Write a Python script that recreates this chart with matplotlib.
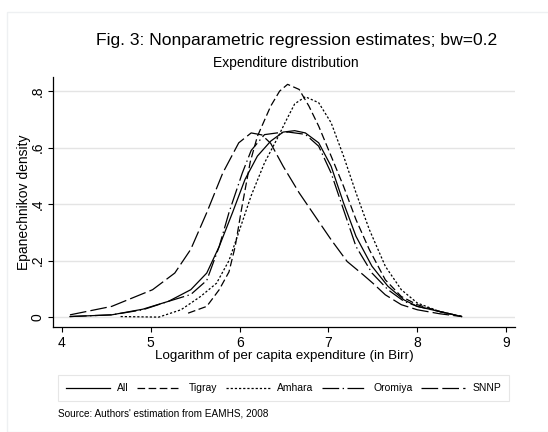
import numpy as np
import matplotlib
matplotlib.use("Agg")
from matplotlib import pyplot as plt
from matplotlib.patches import Rectangle

plt.rcParams['font.family'] = ['Liberation Sans', 'DejaVu Sans']
plt.rcParams['lines.scale_dashes'] = False

# valores
x_all = [4.09, 4.56, 4.91, 5.20, 5.45, 5.63, 5.77, 5.92, 6.06, 6.20, 6.35, 6.49, 6.62, 6.74,
         6.89, 7.03, 7.17, 7.31, 7.49, 7.67, 7.85, 8.0, 8.25, 8.5]
y_all = [0.002, 0.008, 0.028, 0.056, 0.097, 0.156, 0.25, 0.37, 0.487, 0.57, 0.623, 0.655, 0.66, 0.652,
         0.617, 0.534, 0.404, 0.286, 0.18, 0.109, 0.061, 0.038, 0.02, 0.002]

x_tig = [5.42, 5.63, 5.77, 5.88, 5.95, 6.02, 6.12, 6.20, 6.35, 6.45, 6.54, 6.67, 6.78,
         6.89, 7.03, 7.17, 7.31, 7.46, 7.64, 7.82, 8.0, 8.25, 8.5]
y_tig = [0.014, 0.038, 0.097, 0.16, 0.25, 0.38, 0.55, 0.64, 0.747, 0.80, 0.824, 0.806, 0.747,
         0.676, 0.57, 0.463, 0.345, 0.239, 0.132, 0.073, 0.044, 0.02, 0.002]

x_amh = [4.66, 5.09, 5.34, 5.56, 5.74, 5.88, 5.99, 6.13, 6.28, 6.42, 6.53, 6.62, 6.74,
         6.89, 7.03, 7.17, 7.31, 7.46, 7.64, 7.82, 8.0, 8.25, 8.5]
y_amh = [0.002, 0.0, 0.026, 0.073, 0.12, 0.2, 0.3, 0.43, 0.546, 0.63, 0.70, 0.755, 0.78,
         0.759, 0.688, 0.57, 0.44, 0.31, 0.18, 0.097, 0.05, 0.02, 0.002]

x_oro = [4.09, 4.56, 4.91, 5.20, 5.45, 5.63, 5.77, 5.88, 6.03, 6.13, 6.28, 6.42, 6.55, 6.74,
         6.89, 7.03, 7.17, 7.31, 7.49, 7.67, 7.85, 8.0, 8.25, 8.5]
y_oro = [0.002, 0.008, 0.026, 0.056, 0.08, 0.13, 0.25, 0.37, 0.51, 0.59, 0.646, 0.652, 0.655, 0.647,
         0.605, 0.51, 0.38, 0.25, 0.156, 0.097, 0.056, 0.038, 0.02, 0.002]

x_snnp = [4.09, 4.56, 5.02, 5.27, 5.45, 5.63, 5.81, 5.99, 6.13, 6.25, 6.35, 6.49, 6.67,
          6.85, 7.03, 7.21, 7.39, 7.50, 7.64, 7.82, 8.0, 8.25, 8.5]
y_snnp = [0.008, 0.038, 0.097, 0.156, 0.24, 0.37, 0.51, 0.617, 0.652, 0.645, 0.615, 0.534, 0.44,
          0.357, 0.274, 0.197, 0.15, 0.12, 0.079, 0.044, 0.026, 0.012, 0.002]

nomes = ["All", "Tigray", "Amhara", "Oromiya", "SNNP"]
xticks = [4, 5, 6, 7, 8, 9]
yticks = [0, 0.2, 0.4, 0.6, 0.8]
ytick_labels = ["0", ".2", ".4", ".6", ".8"]

W, H = 548, 432
fig = plt.figure(figsize=(5.48, 4.32), dpi=100)
fig.patches.append(Rectangle((7 / W, 0), 1, 1 - 12 / H, transform=fig.transFigure,
                             fill=False, edgecolor='#eef0f2', linewidth=1))

ax = fig.add_axes([53 / W, 1 - 327 / H, (515 - 53) / W, (327 - 77) / H])

estilos = ['-', (0, (5.5, 2.5)), (0, (1.6, 1.4)), (0, (12, 2.5, 1, 2.5)), (0, (12, 3))]
dados = [(x_all, y_all), (x_tig, y_tig), (x_amh, y_amh), (x_oro, y_oro), (x_snnp, y_snnp)]
for (xs, ys), ls, nome in zip(dados, estilos, nomes):
    ax.plot(xs, ys, color='black', linestyle=ls, linewidth=0.9, label=nome)

ax.set_xlim(3.899, 9.10)
ax.set_ylim(-0.035, 0.85)
ax.set_xticks(xticks)
ax.set_yticks(yticks)
ax.set_yticklabels(ytick_labels, rotation=90, va='center')
for g in yticks:
    ax.axhline(g, color='#e4e4e4', linewidth=1, zorder=0)

for s in ['top', 'right']:
    ax.spines[s].set_visible(False)
ax.spines['left'].set_linewidth(0.9)
ax.spines['bottom'].set_linewidth(0.9)
ax.tick_params(axis='both', length=3.6, width=0.8, labelsize=10)
ax.tick_params(axis='x', pad=3)
ax.tick_params(axis='y', pad=2.5)

fig.text(297 / W, 1 - 40 / H, "Fig. 3: Nonparametric regression estimates; bw=0.2",
         ha='center', va='center', fontsize=12.6)
fig.text(286 / W, 1 - 63 / H, "Expenditure distribution", ha='center', va='center', fontsize=10)
fig.text(284 / W, 1 - 356 / H, "Logarithm of per capita expenditure (in Birr)",
         ha='center', va='center', fontsize=9.6)
fig.text(24 / W, 1 - 202 / H, "Epanechnikov density", rotation=90,
         ha='center', va='center', fontsize=10)

leg = fig.legend(loc='lower left', ncol=5, mode='expand',
                 bbox_to_anchor=(58 / W, 1 - 401 / H, (509 - 58) / W, 25 / H),
                 fontsize=7.5, handlelength=4.2, handletextpad=0.7, borderaxespad=0,
                 borderpad=0.75, frameon=True, fancybox=False, edgecolor='#e6e6e6',
                 framealpha=1)
leg.get_frame().set_linewidth(0.8)

fig.text(58 / W, 1 - 413 / H, "Source: Authors' estimation from EAMHS, 2008",
         ha='left', va='center', fontsize=7.2)

fig.savefig("out.png", dpi=100)
